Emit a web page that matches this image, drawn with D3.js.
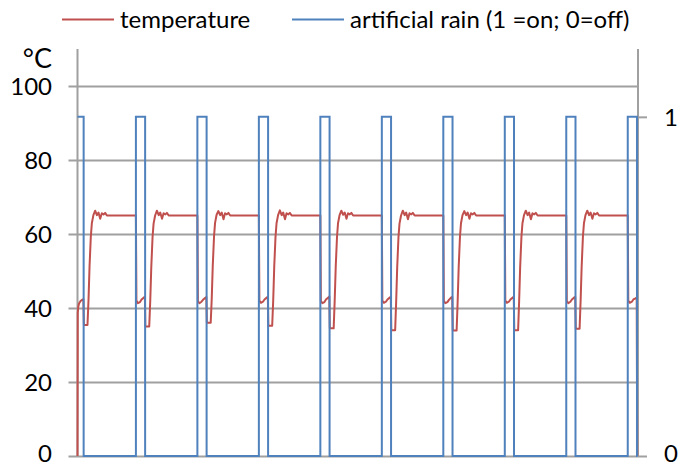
<!DOCTYPE html>
<html>
<head>
<meta charset="utf-8">
<script src="https://cdn.jsdelivr.net/npm/d3@7"></script>
<style>
  body { margin: 0; background: #fff; }
  svg text { font-family: Lato, "Open Sans", sans-serif; fill: #000; }
</style>
</head>
<body>
<svg id="chart" width="678" height="468"></svg>
<script>
// temperature readings: [minute, °C]
let temperature = [
    [0, 0], [0.5, 38.6], [1.5, 40.3], [3, 41.2], [6, 41.9], [9, 42.2], [11.5, 42.4], [12.5, 35.4], [19.5, 35.4],
    [21.5, 42.2], [23.5, 51.2], [26, 59.3], [28, 62.9], [31, 65.1], [34.5, 66.3], [37.8, 65.1], [41, 65.8], [44.3, 64.1],
    [47.5, 65.6], [50.8, 65.3], [54, 65.7], [57.3, 65.0],
    [114, 65.0], [115, 42.0], [118, 41.3], [122, 41.6], [125, 42.3], [129, 42.8], [131.5, 43.0], [132.5, 35.0], [140, 35.0],
    [142, 42.0], [144, 51.0], [146.5, 59.2], [148.5, 62.8], [151.5, 65.0], [155, 66.3], [158.5, 65.1], [161.5, 65.8],
    [165, 64.1], [168, 65.6], [171.5, 65.3], [174.5, 65.7], [178, 65.0],
    [234, 65.0], [235, 41.8], [238, 41.3], [242, 41.7], [245, 42.2], [249, 42.7], [251.5, 43.0], [252.5, 36.0], [260, 36.0],
    [262, 42.5], [264, 51.4], [266.5, 59.4], [268.5, 63.0], [271.5, 65.2], [275, 66.2], [278.5, 65.1], [281.5, 65.8],
    [285, 64.0], [288, 65.6], [291.5, 65.3], [294.5, 65.7], [298, 65.0],
    [354, 65.0], [355, 42.0], [358, 41.4], [362, 41.7], [365, 42.3], [369, 42.8], [371.5, 43.0], [372.5, 35.2], [380, 35.2],
    [382, 42.1], [384, 51.2], [386.5, 59.3], [388.5, 62.9], [391.5, 65.1], [395, 66.4], [398.5, 65.1], [401.5, 65.8],
    [405, 64.0], [408, 65.6], [411.5, 65.3], [414.5, 65.7], [418, 65.0],
    [474, 65.0], [475, 41.9], [478, 41.3], [482, 41.6], [485, 42.3], [489, 42.8], [491.5, 43.1], [492.5, 34.5], [500, 34.5],
    [502, 42.0], [504, 51.1], [506.5, 59.2], [508.5, 62.9], [511.5, 65.1], [515, 66.3], [518.5, 65.2], [521.5, 65.8],
    [525, 64.1], [528, 65.6], [531.5, 65.3], [534.5, 65.7], [538, 65.0],
    [594, 65.0], [595, 42.0], [598, 41.4], [602, 41.7], [605, 42.3], [609, 42.8], [611.5, 43.0], [612.5, 34.0], [620, 34.0],
    [622, 41.8], [624, 51.0], [626.5, 59.2], [628.5, 62.8], [631.5, 65.0], [635, 66.3], [638.5, 65.1], [641.5, 65.8],
    [645, 64.0], [648, 65.6], [651.5, 65.3], [654.5, 65.7], [658, 65.0],
    [714, 65.0], [715, 41.9], [718, 41.3], [722, 41.6], [725, 42.2], [729, 42.8], [731.5, 43.0], [732.5, 33.9], [740, 33.9],
    [742, 41.8], [744, 51.0], [746.5, 59.2], [748.5, 62.9], [751.5, 65.1], [755, 66.2], [758.5, 65.1], [761.5, 65.8],
    [765, 64.1], [768, 65.6], [771.5, 65.3], [774.5, 65.7], [778, 65.0],
    [834, 65.0], [835, 42.0], [838, 41.4], [842, 41.7], [845, 42.3], [849, 42.8], [851.5, 43.0], [852.5, 34.0], [860, 34.0],
    [862, 41.9], [864, 51.1], [866.5, 59.3], [868.5, 62.9], [871.5, 65.1], [875, 66.3], [878.5, 65.1], [881.5, 65.8],
    [885, 64.0], [888, 65.6], [891.5, 65.3], [894.5, 65.7], [898, 65.0],
    [954, 65.0], [955, 41.9], [958, 41.3], [962, 41.7], [965, 42.3], [969, 42.8], [971.5, 43.0], [972.5, 34.4], [980, 34.4],
    [982, 42.0], [984, 51.1], [986.5, 59.3], [988.5, 62.9], [991.5, 65.1], [995, 66.3], [998.5, 65.1], [1001.5, 65.8],
    [1005, 64.1], [1008, 65.6], [1011.5, 65.3], [1014.5, 65.7], [1018, 65.0],
    [1074, 65.0], [1075, 42.0], [1078, 41.4], [1082, 41.7], [1085, 42.3], [1089, 42.6], [1091.5, 42.8], [1092.5, 0]
];

// artificial rain switching: minute and state after it (1 = on, 0 = off)
let rainMinutes = [0, 12, 114, 132, 234, 252, 354, 372, 474, 492, 594, 612, 714, 732, 834, 852, 954, 972, 1074, 1092, 1093];
let rainState   = [1, 0, 1, 0, 1, 0, 1, 0, 1, 0, 1, 0, 1, 0, 1, 0, 1, 0, 1, 0, 0];

let tempTicks = [0, 20, 40, 60, 80, 100];
let rainTicks = [0, 1];
let seriesNames = ["temperature", "artificial rain (1 =on; 0=off)"];
let seriesColors = ["#C0504D", "#4F81BD"];

let plotLeft = 77.5, plotRight = 638, plotTop = 49, plotBottom = 456;
let gridColor = "#A0A0A0";
let fontSize = 24;

let svg = d3.select("#chart");

let xScale = d3.scaleLinear()
    .domain([0, 1094])
    .range([plotLeft, plotRight]);

let yTemp = d3.scaleLinear()
    .domain([0, 110])
    .range([plotBottom, plotTop]);

let yRain = d3.scaleLinear()
    .domain([0, 1.2])
    .range([plotBottom, plotTop]);

// labels sitting on the bottom line get nudged up so they stay inside the frame
function labelDy(d) {
    return d === 0 ? "0.24em" : "0.34em";
}

// horizontal gridlines + left ticks
let leftAxis = svg.append("g")
    .attr("transform", "translate(" + plotLeft + ",0)")
    .call(d3.axisLeft(yTemp).tickValues(tempTicks).tickSize(plotLeft - plotRight).tickSizeOuter(0).tickPadding(0));
leftAxis.select(".domain").remove();
leftAxis.selectAll(".tick line")
    .attr("x1", -9)
    .attr("x2", plotRight - plotLeft)
    .attr("stroke", gridColor)
    .attr("stroke-width", 2);
leftAxis.selectAll(".tick text")
    .attr("x", 52 - plotLeft)
    .attr("dy", labelDy)
    .style("font-size", fontSize + "px")
    .style("font-family", "Lato, sans-serif")
    .attr("fill", "#000");

// right axis ticks
let rightAxis = svg.append("g")
    .attr("transform", "translate(" + plotRight + ",0)")
    .call(d3.axisRight(yRain).tickValues(rainTicks).tickFormat(d3.format("d")).tickSize(9).tickSizeOuter(0).tickPadding(17));
rightAxis.select(".domain").remove();
rightAxis.selectAll(".tick line")
    .attr("stroke", gridColor)
    .attr("stroke-width", 2);
rightAxis.selectAll(".tick text")
    .attr("dy", labelDy)
    .style("font-size", fontSize + "px")
    .style("font-family", "Lato, sans-serif")
    .attr("fill", "#000");

// vertical axis lines
[plotLeft, plotRight].forEach(function(x) {
    svg.append("line")
        .attr("x1", x)
        .attr("x2", x)
        .attr("y1", plotTop)
        .attr("y2", plotBottom + 1)
        .attr("stroke", gridColor)
        .attr("stroke-width", 2);
});

// unit label
svg.append("text")
    .attr("x", 52)
    .attr("y", 68)
    .attr("text-anchor", "end")
    .style("font-size", "27px")
    .text("°C");

// temperature line
let tempLine = d3.line()
    .x(function(d) { return xScale(d[0]); })
    .y(function(d) { return yTemp(d[1]); });

svg.append("path")
    .datum(temperature)
    .attr("d", tempLine)
    .attr("fill", "none")
    .attr("stroke", seriesColors[0])
    .attr("stroke-width", 2)
    .attr("stroke-linejoin", "round");

// rain line
let rainLine = d3.line()
    .x(function(d, i) { return xScale(rainMinutes[i]); })
    .y(function(d) { return yRain(d); })
    .curve(d3.curveStepAfter);

svg.append("path")
    .datum(rainState)
    .attr("d", rainLine)
    .attr("fill", "none")
    .attr("stroke", seriesColors[1])
    .attr("stroke-width", 2);

// legend
let legendX = [62, 292];
seriesNames.forEach(function(name, i) {
    svg.append("line")
        .attr("x1", legendX[i])
        .attr("x2", legendX[i] + 52)
        .attr("y1", 19.5)
        .attr("y2", 19.5)
        .attr("stroke", seriesColors[i])
        .attr("stroke-width", 2);
    svg.append("text")
        .attr("x", legendX[i] + 58)
        .attr("y", 27.5)
        .style("font-size", fontSize + "px")
        .text(name);
});
</script>
</body>
</html>
